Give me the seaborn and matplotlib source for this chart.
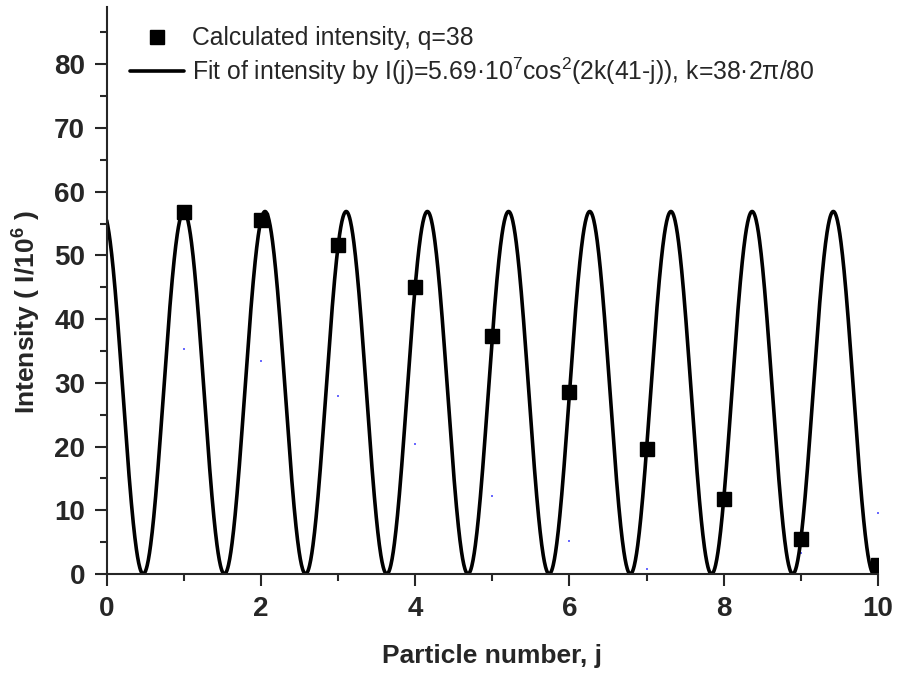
import numpy as np
import pandas as pd
import matplotlib
matplotlib.use("Agg")
import matplotlib.pyplot as plt
from matplotlib.lines import Line2D
from matplotlib.ticker import MultipleLocator
import seaborn as sns

# ── DATA ─────────────────────────────────────────────────────────────────────
particle = [1, 2, 3, 4, 5, 6, 7, 8, 9, 10]
calc_intensity = [56.9, 55.6, 51.6, 45.1, 37.3, 28.5, 19.6, 11.7, 5.45, 1.4]
# faint second series (tiny blue dots in the picture)
faint_intensity = [35.3, 33.4, 28.0, 20.4, 12.2, 5.1, 0.85, 0.05, 3.35, 9.6]

# fit parameters as stated in the legend
FIT_AMP = 56.9        # 5.69e7 / 1e6
FIT_Q, FIT_N, FIT_J0 = 38, 80, 41
fit_k = FIT_Q * 2 * np.pi / FIT_N
fit_j = np.linspace(0, 10, 2001)
fit_i = FIT_AMP * np.cos(fit_k * (FIT_J0 - fit_j)) ** 2

calc_df = pd.DataFrame({"j": particle, "I": calc_intensity})
faint_df = pd.DataFrame({"j": particle, "I": faint_intensity})
fit_df = pd.DataFrame({"j": fit_j, "I": fit_i})

# ── STYLE ────────────────────────────────────────────────────────────────────
sns.set_style("ticks")
plt.rcParams["font.family"] = ["Liberation Sans", "DejaVu Sans"]
plt.rcParams["mathtext.fontset"] = "custom"
plt.rcParams["mathtext.rm"] = "Liberation Sans"
plt.rcParams["mathtext.it"] = "Liberation Sans"
plt.rcParams["mathtext.bf"] = "Liberation Sans:bold"

fig = plt.figure(figsize=(8.98, 6.74), dpi=100)
ax = fig.add_axes([0.1188, 0.1484, 0.8589, 0.8412])

sns.lineplot(data=fit_df, x="j", y="I", ax=ax, color="black",
             linewidth=2.6, estimator=None, sort=False)
sns.scatterplot(data=faint_df, x="j", y="I", ax=ax, color="#6a6aff",
                marker="s", s=3, linewidth=0)
ax.plot(calc_df["j"], calc_df["I"], linestyle="none", marker="s",
        markersize=10, color="black")

ax.set_xlim(0, 10)
ax.set_ylim(0, 89)
ax.xaxis.set_major_locator(MultipleLocator(2))
ax.xaxis.set_minor_locator(MultipleLocator(1))
ax.yaxis.set_major_locator(MultipleLocator(10))
ax.yaxis.set_minor_locator(MultipleLocator(5))
ax.tick_params(which="major", direction="out", length=8.5, width=1.5,
               labelsize=20, pad=7)
ax.tick_params(which="minor", direction="out", length=5, width=1.5)
for lbl in ax.get_xticklabels() + ax.get_yticklabels():
    lbl.set_fontweight("bold")

for side in ["top", "right"]:
    ax.spines[side].set_visible(False)
for side in ["left", "bottom"]:
    ax.spines[side].set_linewidth(1.5)

ax.set_xlabel("Particle number, j", fontsize=19, fontweight="bold")
ax.set_ylabel(r"Intensity ( I/10$^{\mathbf{6}}$ )", fontsize=19, fontweight="bold")
ax.xaxis.set_label_coords(0.499, -0.123)
ax.yaxis.set_label_coords(-0.0825, 0.462)

handles = [
    Line2D([], [], linestyle="none", marker="s", markersize=10, color="black"),
    Line2D([], [], color="black", linewidth=2.6),
]
labels = [
    "Calculated intensity, q=38",
    r"Fit of intensity by I(j)=5.69·10$^7$cos$^2$(2k(41-j)), k=38·2π/80",
]
ax.legend(handles, labels, loc="upper left", bbox_to_anchor=(0.030, 0.966),
          frameon=False, fontsize=17.8, handlelength=2.2, handletextpad=0.33,
          labelspacing=0.22, borderpad=0, borderaxespad=0)

fig.savefig("out.png", dpi=100)
